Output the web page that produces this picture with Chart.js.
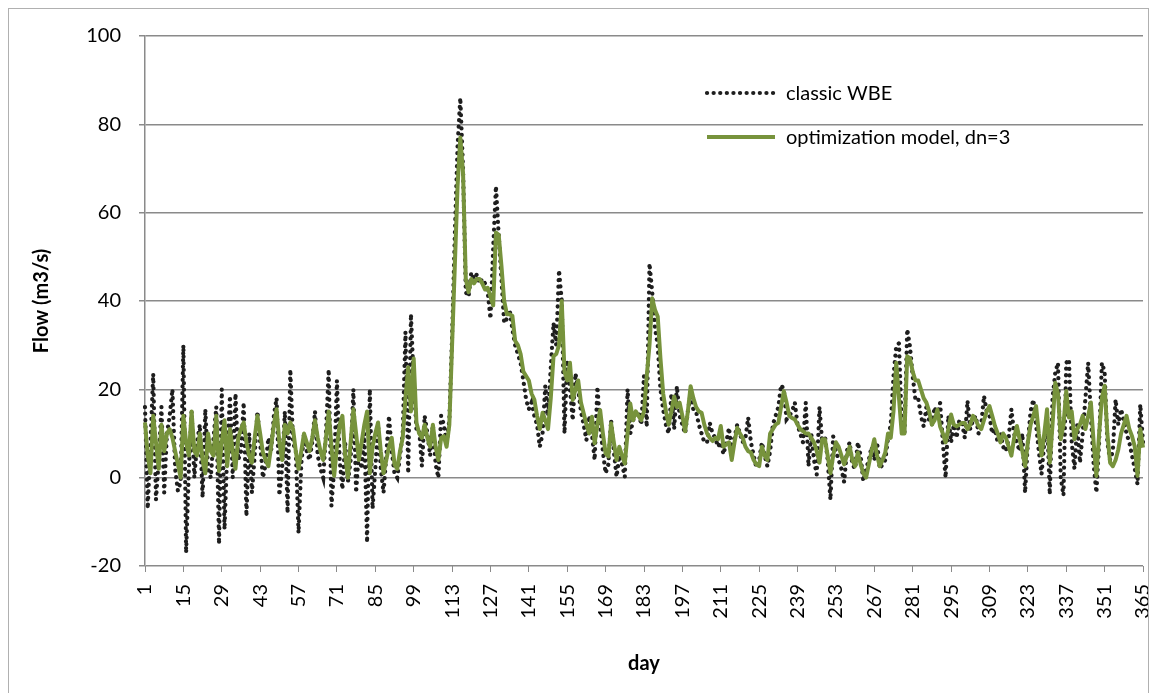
<!DOCTYPE html>
<html>
<head>
<meta charset="utf-8">
<script src="https://cdn.jsdelivr.net/npm/chart.js@4"></script>
<style>
  body { margin: 0; background: #fff; }
  #wrap { width: 1161px; height: 693px; position: relative; }
</style>
</head>
<body>
<div id="wrap"><canvas id="chart1"></canvas></div>
<script>
// days 1..365 on the category axis
const days = Array.from({ length: 365 }, (_, i) => i + 1);
const yTicks = [-20, 0, 20, 40, 60, 80, 100];

// optimization model, dn=3 (green line)
const optimModel = [
  12.5, 5, 1, 14, 8, 2, 12, 6, 10, 11,
  9, 6, 3, 0, 14, 8, 5, 15, 6, 5,
  10, 4, 1, 10, 6, 5, 14, 1.5, 8, 13,
  2.6, 11, 6, 2, 9, 11, 12.5, 8, 5, 3.4,
  9, 14, 10, 5.7, 4, 2.6, 7, 12, 15.5, 8,
  4, 12, 10, 12.5, 11, 6, 2, 6, 10, 8,
  6, 9, 13, 9, 6, 4, 9, 15, 7, 0.4,
  7, 12, 14, 5, 0, 8, 15.5, 10, 4, 8,
  12, 15, 1, 7, 10, 12.5, 6, 1, 4, 7,
  9, 3, 2, 6, 9, 18, 25, 15, 27, 12.5,
  10, 9, 12, 9, 7, 12, 7, 4, 9, 9.4,
  7, 12, 30, 48, 66, 77, 69, 45, 42, 45,
  44, 45, 45, 44, 42.6, 43, 41, 39, 55.5, 55,
  48, 40, 37, 37, 36.6, 31, 30, 28, 24, 23,
  22, 19, 17.7, 14, 11, 14.7, 13, 11, 18, 27.5,
  28, 30, 40, 24, 22, 26, 17.6, 20, 22, 17,
  14.6, 12, 10, 13.8, 7.8, 12, 15.3, 10, 5.5, 4.8,
  12.3, 8, 4, 7, 5, 3.2, 10, 16.8, 13, 15,
  14, 13, 15, 23, 30, 40.6, 38, 36.5, 27, 19,
  15, 12, 15, 18.4, 16, 17, 14, 10.5, 15, 20.7,
  18, 16, 15, 14.7, 12, 10, 9, 8.3, 9, 8.7,
  11.7, 7, 7.5, 8, 4, 8, 11.3, 10, 9, 7,
  6, 5.7, 4, 3, 2.6, 7, 5, 4, 10, 11,
  12, 12.4, 16, 19.6, 17, 14, 13.5, 13.2, 12, 11,
  10.5, 10, 10, 9, 8, 6, 3.4, 8.7, 8.7, 5,
  1, 5, 8, 7, 5, 3, 5, 7, 4, 2.6,
  5.7, 3, 1, 0, 3, 6, 8.7, 5, 2.6, 4,
  5.7, 10, 9, 15, 26, 18, 10, 10, 27.5, 27,
  24, 22, 22, 20, 18, 17, 15, 12, 13, 15.4,
  11.6, 10, 8, 11, 14.3, 12, 11.6, 12, 12.4, 12.4,
  11, 12, 14, 13, 11.7, 11, 13, 15, 16.2, 14,
  11.7, 10, 8, 10, 9, 7, 5, 9, 11.7, 8.7,
  6, 2.6, 8, 12, 14, 16.2, 10, 5, 10, 15.5,
  3.4, 12, 21.5, 19, 8.7, 12, 19.6, 13.6, 15, 8.7,
  11, 12, 14, 11, 14, 17, 8, 0.4, 10, 18,
  20.8, 10, 3.4, 2.6, 4, 6.4, 10, 12, 14, 11,
  9.4, 7, 0.4, 11, 6.8
];

// classic WBE (black dotted line)
const classicWBE = [
  16, -7, 8, 23.5, -5, 4, 16, -3.4, 10, 14,
  20, 2, -3, -1, 30, -17, 2, 15, 0, 8,
  12, -4.5, 15.5, 2, 0, 9, 16, -15, 20, -11.7,
  6, 18.5, 0, 19, 4, 6, 17, -8.7, 10, -3.4,
  5, 15, 8, 0, 3, 9, 6, 14, 18, -4,
  2, 15, -8, 24.5, 8, 6, -12.5, 3, 10, 6,
  4, 8, 15, 5, 2, 0, 10, 24.5, -6.4, 2,
  22, 4, -2.6, 8, -1, 4, 20, -3.4, 6, 2,
  10, -14.7, 20, -7, 2, 12, 2, -3.4, 5, 14,
  6, 1, 0, 5, 10, 33, 1, 37, 22, 11,
  11, 2.6, 14, 10, 5, 12, 3, 0, 14, 12,
  8, 13, 32, 55, 75, 86, 70, 42, 41, 46.4,
  45, 46, 44, 45, 44, 42, 36, 52, 66, 55,
  45, 35, 36, 38, 33.6, 30, 28, 26, 22, 17.7,
  15.5, 17, 14, 12, 7, 10, 20.8, 14, 25, 35,
  30, 47, 40, 10, 26.6, 20, 13, 23.6, 20, 15,
  12, 8.5, 14, 10, 4, 20.6, 12, 6, 1, 3,
  13, 6, 0.2, 5, 3, 0.2, 20, 10, 13, 14,
  15, 12, 23, 11.5, 48.5, 42, 34, 30, 20, 15.4,
  12, 10, 19, 11, 20.7, 14, 12, 10, 15, 19,
  15.4, 15, 12, 10, 8, 8, 12.4, 10, 9, 7,
  8, 5.3, 8, 11.3, 6, 9, 12, 10, 8, 9,
  13.6, 8, 5, 2.3, 4, 8, 5, 2.6, 6, 12,
  14, 16, 21, 20, 13.2, 14, 15, 17, 12, 10,
  8, 17, 2.6, 10, 4, 0.7, 16, 8, 9.4, 4,
  -5, 9.4, 6, 4, 2, -1, 6, 8, 3, 2,
  8, 5, -0.8, 2, 4, 7, 4, 8, 2, 3,
  4, 9, 12, 23, 29.8, 30.4, 12, 10, 33.6, 29.7,
  23, 17.7, 18, 14, 11.6, 16, 13, 12, 16, 14,
  16.9, 8, 0, 14, 8, 12, 9, 13, 12.4, 9,
  17.4, 11, 13, 14, 10, 12, 18.5, 15, 14, 10,
  11, 8, 10, 7, 6, 9, 15.5, 10, 8, 6,
  10, -3.4, 8, 15, 17.7, 12, 6, 0.8, 8, 14,
  -3.8, 18, 23.8, 26, 0, -4, 26, 26.8, 8, 2,
  12, 3.4, 10, 18, 26, 14, 3, -3.4, 8, 26,
  24, 8, 4, 6, 17.7, 12, 15.5, 13, 10, 8,
  5, 2, -1.5, 16.6, 8
];

const FONT = 'Lato, "Open Sans", sans-serif';
const greenCol = '#77933c';
const darkCol = '#1e1e1e';
const dotDash = [0.1, 6.5];

// legend drawn inside the plot, plus the light frame around the chart
const frameAndLegend = {
  id: 'frameAndLegend',
  afterDraw(chart) {
    const ctx = chart.ctx;
    ctx.save();
    ctx.strokeStyle = '#b0b0b0';
    ctx.lineWidth = 1;
    ctx.strokeRect(8.5, 8.5, 1140, 700);

    const rows = [
      { y: 93, color: darkCol, dash: dotDash, width: 4.2, text: 'classic WBE' },
      { y: 137, color: greenCol, dash: [], width: 4, text: 'optimization model, dn=3' }
    ];
    rows.forEach(r => {
      ctx.beginPath();
      ctx.setLineDash(r.dash);
      ctx.lineCap = r.dash.length ? 'round' : 'butt';
      ctx.lineWidth = r.width;
      ctx.strokeStyle = r.color;
      ctx.moveTo(707, r.y);
      ctx.lineTo(775, r.y);
      ctx.stroke();
      ctx.setLineDash([]);
      ctx.fillStyle = '#000';
      ctx.font = '20px ' + FONT;
      ctx.textBaseline = 'middle';
      ctx.fillText(r.text, 786, r.y + 1);
    });
    ctx.restore();
  }
};

new Chart(document.getElementById('chart1'), {
  type: 'line',
  data: {
    labels: days,
    datasets: [
      {
        label: 'optimization model, dn=3',
        data: optimModel,
        borderColor: greenCol,
        borderWidth: 4,
        borderJoinStyle: 'round',
        pointRadius: 0,
        tension: 0,
        order: 1
      },
      {
        label: 'classic WBE',
        data: classicWBE,
        borderColor: darkCol,
        borderWidth: 4.2,
        borderDash: dotDash,
        borderCapStyle: 'round',
        pointRadius: 0,
        tension: 0,
        order: 2
      }
    ]
  },
  options: {
    responsive: true,
    maintainAspectRatio: false,
    animation: false,
    layout: { padding: { left: 0, right: 18, top: 36, bottom: 0 } },
    plugins: {
      legend: { display: false },
      tooltip: { enabled: false }
    },
    scales: {
      x: {
        type: 'category',
        offset: false,
        afterFit: s => {
          s.height = 127;
          s.paddingLeft = 0;
          s.paddingRight = 0;
        },
        grid: { drawOnChartArea: false, drawTicks: true, tickLength: 6, color: '#8a8a8a' },
        border: { display: false },
        ticks: {
          autoSkip: false,
          maxRotation: 90,
          minRotation: 90,
          padding: 12,
          color: '#000',
          font: { family: FONT, size: 20 },
          callback: function (val, i) {
            return i % 14 === 0 ? days[i] : null;
          }
        },
        title: {
          display: true,
          text: 'day',
          color: '#000',
          font: { family: FONT, size: 20, weight: 'bold' },
          padding: { top: 0, bottom: 17 }
        }
      },
      y: {
        min: yTicks[0],
        max: yTicks[yTicks.length - 1],
        afterFit: s => { s.width = 145; },
        afterBuildTicks: s => { s.ticks = yTicks.map(v => ({ value: v })); },
        grid: { color: '#8a8a8a', lineWidth: 1.5, tickLength: 6 },
        border: { color: '#8a8a8a', width: 1.5 },
        ticks: {
          padding: 18,
          color: '#000',
          font: { family: FONT, size: 20 }
        },
        title: {
          display: true,
          text: 'Flow (m3/s)',
          color: '#000',
          font: { family: FONT, size: 20, weight: 'bold' },
          padding: { top: 30, bottom: 0 }
        }
      }
    }
  },
  plugins: [frameAndLegend]
});
</script>
</body>
</html>
